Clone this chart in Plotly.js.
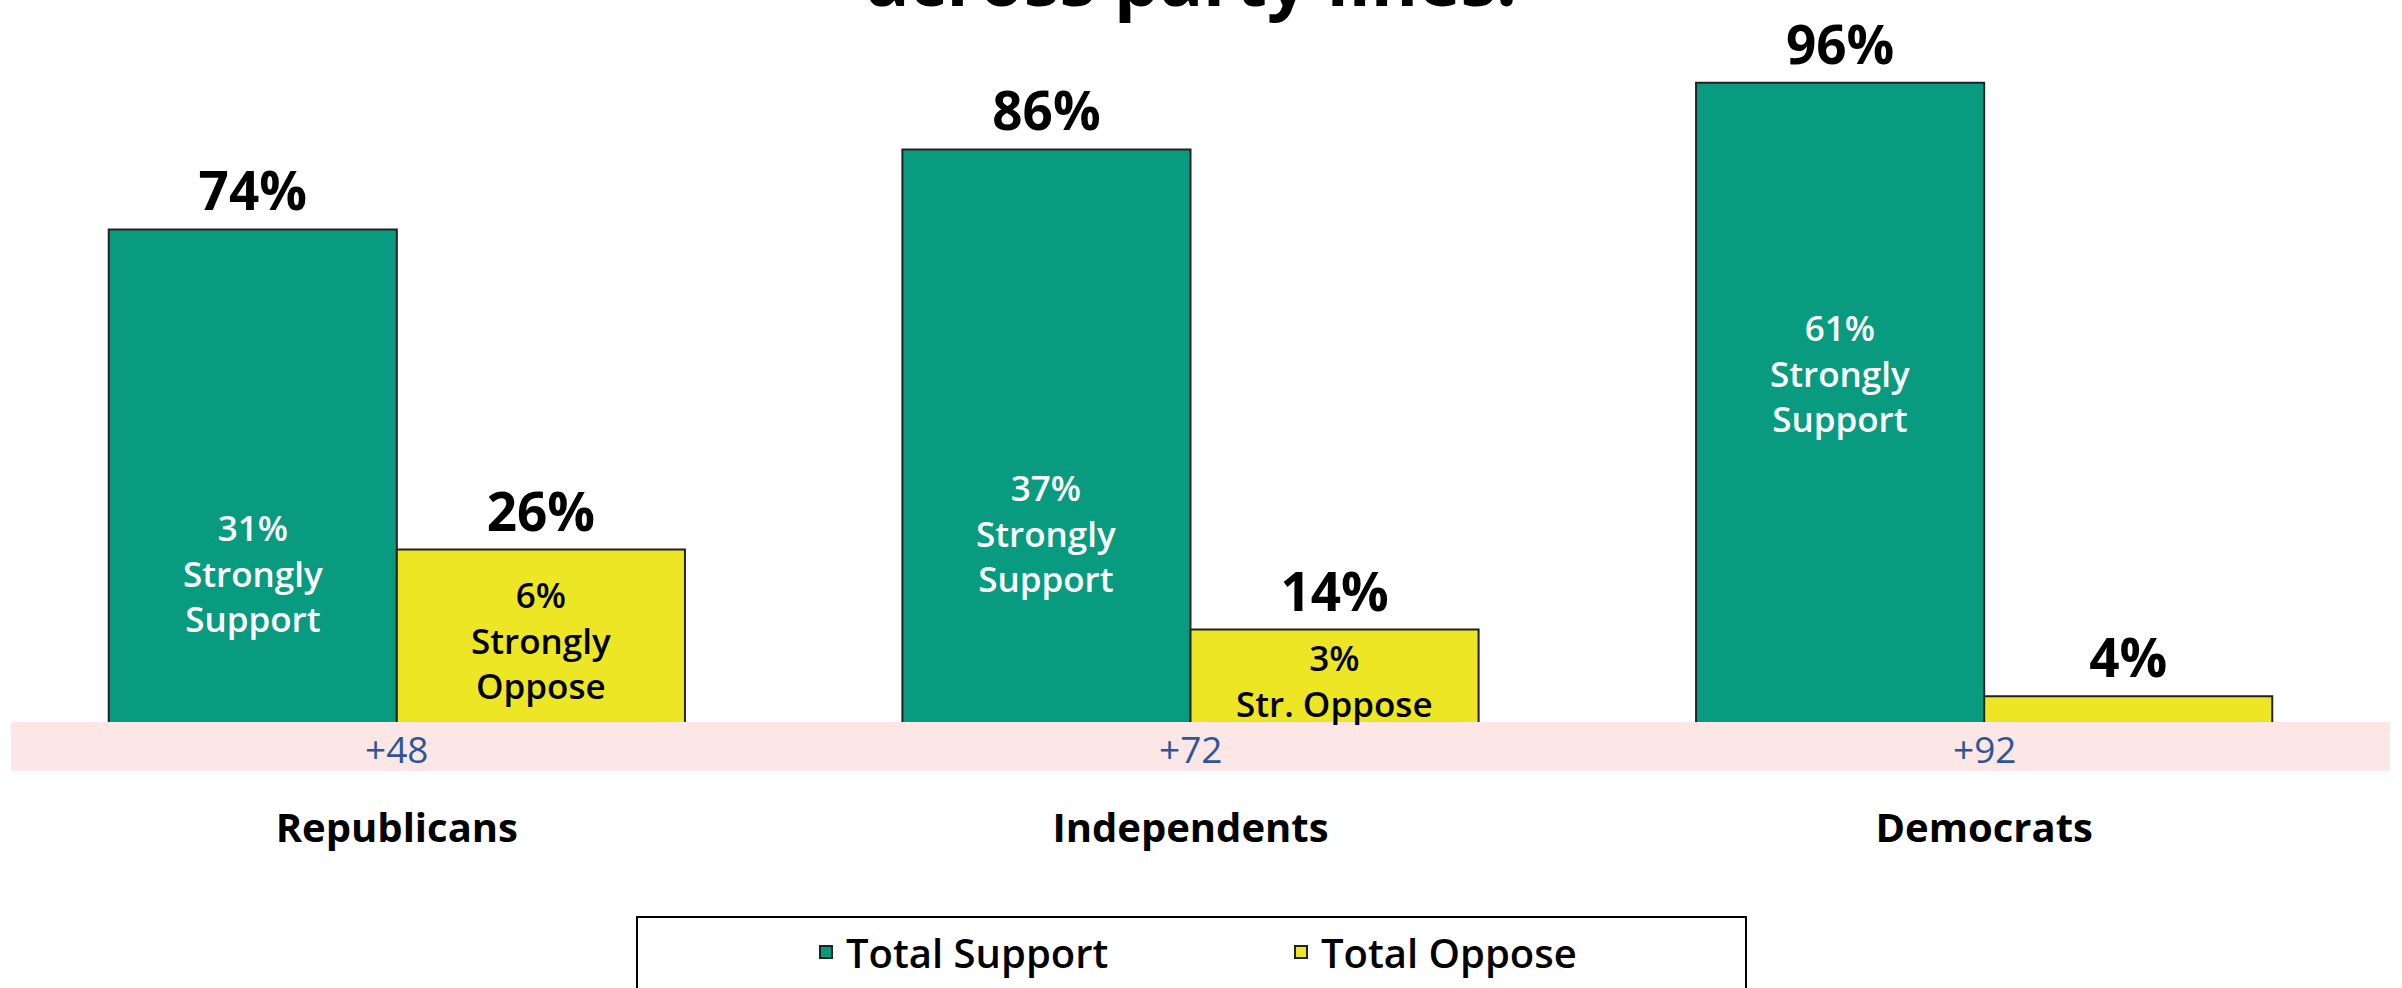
<!DOCTYPE html>
<html>
<head>
<meta charset="utf-8">
<script src="https://cdn.plot.ly/plotly-3.0.1.min.js"></script>
<style>
  html, body { margin: 0; padding: 0; background: #ffffff; }
  #chart { width: 2402px; height: 988px; }
</style>
</head>
<body>
<div id="chart"></div>
<script>
// ---- data ----
const categories = ['Republicans', 'Independents', 'Democrats'];
const totalSupport = [74, 86, 96];
const totalOppose = [26, 14, 4];
const strongSupport = [31, 37, 61];
const strongOppose = [6, 3, null];
const opposeLabelNames = ['Strongly<br>Oppose', 'Str. Oppose', ''];
const seriesNames = ['Total Support', 'Total Oppose'];
const titleText = 'across party lines.';

// ---- styling ----
const FONT = 'Open Sans, Lato, sans-serif';
const GREEN = '#089B80';
const YELLOW = '#EDE625';
const OUTLINE = '#222222';
const BARGAP = 0.274;
const W = 2402, H = 988;
const M = { l: 0, r: 21, t: 56, b: 265 };
const plotH = H - M.t - M.b;
const plotW = W - M.l - M.r;
const pxToPaperY = px => (H - M.b - px) / plotH;   // px measured from top of page
const pxToPaperX = px => (px - M.l) / plotW;

const traceSupport = {
  type: 'bar',
  name: seriesNames[0],
  x: categories,
  y: totalSupport,
  marker: { color: GREEN, line: { color: OUTLINE, width: 2 } },
  text: totalSupport.map(v => v + '%'),
  textposition: 'outside',
  textfont: { family: FONT, size: 53, weight: 700, color: '#000000' },
  cliponaxis: false,
  constraintext: 'none',
  hoverinfo: 'skip'
};
const traceOppose = {
  type: 'bar',
  name: seriesNames[1],
  x: categories,
  y: totalOppose,
  marker: { color: YELLOW, line: { color: OUTLINE, width: 2 } },
  text: totalOppose.map(v => v + '%'),
  textposition: 'outside',
  textfont: { family: FONT, size: 53, weight: 700, color: '#000000' },
  cliponaxis: false,
  constraintext: 'none',
  hoverinfo: 'skip'
};

const off = (1 - BARGAP) / 4;   // centre offset of each bar inside its group
const annotations = [];

// title (only its lower line is visible at the top edge)
annotations.push({
  xref: 'paper', yref: 'paper', x: pxToPaperX(1191), y: pxToPaperY(29),
  xanchor: 'center', yanchor: 'bottom', showarrow: false,
  text: '<b>' + titleText + '</b>',
  font: { family: FONT, size: 72, weight: 700, color: '#000000' }
});

// strongly-support labels inside the green bars (top of label at the strong value)
strongSupport.forEach((v, i) => {
  annotations.push({
    xref: 'x', yref: 'y', x: i - off, y: v, yshift: 14,
    xanchor: 'center', yanchor: 'top', showarrow: false,
    text: v + '%<br>Strongly<br>Support',
    font: { family: FONT, size: 35, weight: 600, color: '#ffffff' }
  });
});

// strongly-oppose labels inside the yellow bars
strongOppose.forEach((v, i) => {
  if (v === null) return;
  annotations.push({
    xref: 'x', yref: 'y', x: i + off, y: totalOppose[i] / 2, yshift: -4,
    xanchor: 'center', yanchor: 'middle', showarrow: false,
    text: v + '%<br>' + opposeLabelNames[i],
    font: { family: FONT, size: 35, weight: 600, color: '#000000' }
  });
});

// net margin labels in the pink band
categories.forEach((c, i) => {
  const net = totalSupport[i] - totalOppose[i];
  annotations.push({
    xref: 'x', yref: 'paper', x: i, y: pxToPaperY(748),
    xanchor: 'center', yanchor: 'middle', showarrow: false,
    text: (net > 0 ? '+' : '') + net,
    font: { family: FONT, size: 37, color: '#2F5597' }
  });
});

const shapes = [
  { // pink net-margin band
    type: 'rect', xref: 'paper', yref: 'paper', layer: 'above',
    x0: pxToPaperX(11), x1: pxToPaperX(2390),
    y0: pxToPaperY(722), y1: pxToPaperY(771),
    fillcolor: '#FDE7E6', line: { width: 0 }
  },
  { // legend frame
    type: 'rect', xref: 'paper', yref: 'paper', layer: 'above',
    x0: pxToPaperX(637), x1: pxToPaperX(1746),
    y0: pxToPaperY(917), y1: pxToPaperY(1010),
    fillcolor: 'rgba(0,0,0,0)', line: { color: '#000000', width: 2 }
  }
];

const layout = {
  width: W, height: H,
  margin: M,
  paper_bgcolor: '#ffffff',
  plot_bgcolor: '#ffffff',
  barmode: 'group',
  bargap: BARGAP,
  bargroupgap: 0,
  showlegend: true,
  legend: {
    orientation: 'h',
    x: pxToPaperX(806), xanchor: 'left',
    y: pxToPaperY(952), yanchor: 'middle',
    font: { family: FONT, size: 40, weight: 600, color: '#000000' },
    entrywidth: 430, entrywidthmode: 'pixels',
    bgcolor: 'rgba(0,0,0,0)', borderwidth: 0,
    traceorder: 'normal'
  },
  xaxis: {
    type: 'category',
    range: [-0.5, 2.5],
    showgrid: false, zeroline: false, showline: false,
    ticks: 'outside', ticklen: 70, tickcolor: 'rgba(0,0,0,0)',
    tickfont: { family: FONT, size: 40, weight: 700, color: '#000000' },
    fixedrange: true
  },
  yaxis: {
    range: [0, 100],
    visible: false,
    showgrid: false, zeroline: false,
    fixedrange: true
  },
  annotations: annotations,
  shapes: shapes
};

Plotly.newPlot('chart', [traceSupport, traceOppose], layout, { displayModeBar: false, staticPlot: true });
</script>
</body>
</html>
